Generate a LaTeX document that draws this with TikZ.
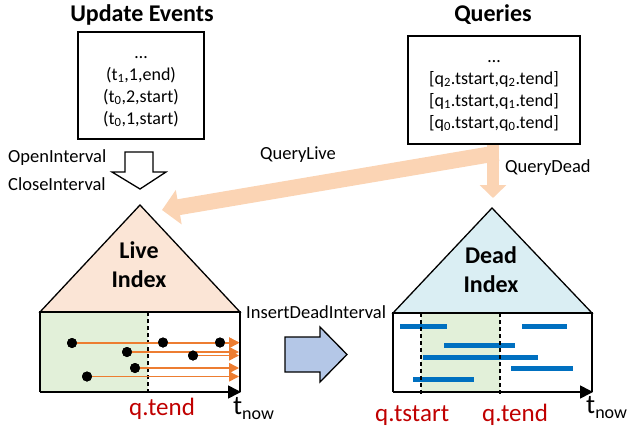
\documentclass[tikz,border=0pt]{standalone}
\usepackage{fontspec}
\setmainfont{Carlito}
\usetikzlibrary{arrows.meta}

\definecolor{peach}{RGB}{251,212,180}
\definecolor{livefill}{RGB}{251,229,214}
\definecolor{deadfill}{RGB}{218,238,243}
\definecolor{winfill}{RGB}{226,240,217}
\definecolor{evorange}{RGB}{237,125,49}
\definecolor{barblue}{RGB}{0,112,192}
\definecolor{arrowblue}{RGB}{180,199,231}
\definecolor{qred}{RGB}{192,0,0}

\newcommand\fsz[1]{\fontsize{#1}{#1}\selectfont}

\begin{document}
\begin{tikzpicture}[x=1pt,y=-1pt,
  title/.style={font=\fsz{24}\bfseries, anchor=base, inner sep=0pt},
  entry/.style={font=\fsz{18}, anchor=base, inner sep=0pt},
  oplabel/.style={font=\fsz{18.5}, anchor=base west, inner sep=0pt},
  idxlabel/.style={font=\fsz{24}\bfseries, anchor=base, inner sep=0pt},
  qlabel/.style={font=\fsz{25}, text=qred, anchor=base west, inner sep=0pt},
  tnow/.style={font=\fsz{27}, anchor=base west, inner sep=0pt},
  listbox/.style={draw, line width=1.3pt, inner sep=0pt},
  queryarrow/.style={draw=peach, line width=#1, -{Triangle[length=17pt,width=34pt]}},
  axis/.style={line width=1.6pt, -{Triangle[length=13pt,width=13pt]}},
  window/.style={dashed, dash pattern=on 4pt off 3pt, line width=1.2pt},
  interval/.style={evorange, line width=1.5pt, -{Triangle[length=10pt,width=10pt]}},
  event/.style={circle, fill=black, inner sep=0pt, minimum size=10pt},
  deadbar/.style={barblue, line width=5pt},
  blockarrow/.style={draw, line width=1.3pt, line join=miter},
]
\useasboundingbox (0,0) rectangle (628,428);

% ---------- input streams ----------
\node[title] (evtitle) at (142,22) {Update Events};
\node[listbox, minimum width=126pt, minimum height=107pt] (events) at (141,85.5) {};
\node[entry] (e3) at (141,58) {\dots};
\node[entry] (e2) at (141,80) {(t\textsubscript{1},1,end)};
\node[entry] (e1) at (141,102) {(t\textsubscript{0},2,start)};
\node[entry] (e0) at (141,124) {(t\textsubscript{0},1,start)};

\node[title] (qtitle) at (493,22) {Queries};
\node[listbox, minimum width=172pt, minimum height=108pt] (queries) at (494,90) {};
\node[entry] (q3) at (494,62) {\dots};
\node[entry] (q2) at (494,84) {[q\textsubscript{2}.tstart,q\textsubscript{2}.tend]};
\node[entry] (q1) at (494,106) {[q\textsubscript{1}.tstart,q\textsubscript{1}.tend]};
\node[entry] (q0) at (494,128) {[q\textsubscript{0}.tstart,q\textsubscript{0}.tend]};

% ---------- operation labels ----------
\node[oplabel] (open) at (8,162) {OpenInterval};
\node[oplabel] (close) at (8,190) {CloseInterval};
\node[oplabel] (qlive) at (260,159) {QueryLive};
\node[oplabel] (qdead) at (505,172) {QueryDead};
\node[oplabel] (insert) at (246,318) {InsertDeadInterval};

% ---------- query routing arrows ----------
\coordinate (qsplit) at (493,143);
\coordinate (qdiag) at (498,153);
\coordinate (livetip) at (162,210);
\coordinate (deadtip) at (493,198);
\draw[draw=peach, line width=12pt, -{Triangle[length=13pt,width=26pt]}] (qsplit) -- (deadtip);
\draw[queryarrow=16pt] (qdiag) -- (livetip);
\node[listbox, minimum width=172pt, minimum height=108pt] at (queries.center) {};

% ---------- update arrow ----------
\draw[blockarrow, fill=white] (125,152) -- (153,152) -- (153,172) -- (166,172)
  -- (140,189) -- (112,172) -- (125,172) -- cycle;

% ---------- live index ----------
\coordinate (lapex) at (140,205);
\coordinate (lbl) at (40,312);
\coordinate (lbr) at (240,312);
\filldraw[fill=livefill, line width=1.3pt, line join=miter] (lbl) -- (lapex) -- (lbr) -- cycle;
\node[idxlabel] (live1) at (139,258) {Live};
\node[idxlabel] (live2) at (139,287) {Index};

\fill[winfill] (40,312) rectangle (148,392);
\draw[window] (148,312) -- (148,392);

\node[event] (a1) at (72,343) {};
\node[event] (a2) at (163,342.5) {};
\node[event] (a3) at (220,342.5) {};
\node[event] (a4) at (127,352) {};
\node[event] (a5) at (193,355.5) {};
\node[event] (a6) at (135,368) {};
\node[event] (a7) at (87,376.5) {};
\foreach \n/\y in {a1/343,a2/342.5,a3/342.5,a4/352,a5/355.5,a6/368,a7/376.5}{
  \coordinate (\n end) at (239,\y);
  \draw[interval] (\n.center) -- (\n end);
}
\foreach \n in {a1,a2,a3,a4,a5,a6,a7}{ \node[event] at (\n) {}; }

\draw[line width=1.3pt] (40,392) -- (40,312) -- (240,312) -- (240,392);
\coordinate (laxs) at (40,392);
\coordinate (laxe) at (241,392);
\draw[axis] (laxs) -- (laxe);
\node[qlabel] (lqend) at (129,415) {q.tend};
\node[tnow] (ltnow) at (233,414) {t\raisebox{-5pt}{\fsz{18}now}};

% ---------- transfer arrow ----------
\draw[blockarrow, fill=arrowblue] (285,337) -- (320,337) -- (320,327) -- (347,354.5)
  -- (320,382) -- (320,372) -- (285,372) -- cycle;

% ---------- dead index ----------
\coordinate (dapex) at (492,208);
\coordinate (dbl) at (393,313);
\coordinate (dbr) at (592,313);
\filldraw[fill=deadfill, line width=1.3pt, line join=miter] (dbl) -- (dapex) -- (dbr) -- cycle;
\node[idxlabel] (dead1) at (491,263) {Dead};
\node[idxlabel] (dead2) at (491,292) {Index};

\fill[winfill] (421,313) rectangle (500,392);
\draw[deadbar] (400,326) -- (447,326);
\draw[deadbar] (522,326) -- (567,326);
\draw[deadbar] (444,345) -- (515,345);
\draw[deadbar] (423,357) -- (538,357);
\draw[deadbar] (511,368) -- (573,368);
\draw[deadbar] (413,379) -- (474,379);
\draw[window] (421,313) -- (421,396);
\draw[window] (500,313) -- (500,396);

\draw[line width=1.3pt] (393,392) -- (393,313) -- (592,313) -- (592,392);
\coordinate (daxs) at (393,392);
\coordinate (daxe) at (593,392);
\draw[axis] (daxs) -- (daxe);
\node[qlabel] (dqstart) at (375,421) {q.tstart};
\node[qlabel] (dqend) at (482,421) {q.tend};
\node[tnow] (dtnow) at (586,413) {t\raisebox{-5pt}{\fsz{18}now}};
\end{tikzpicture}
\end{document}
